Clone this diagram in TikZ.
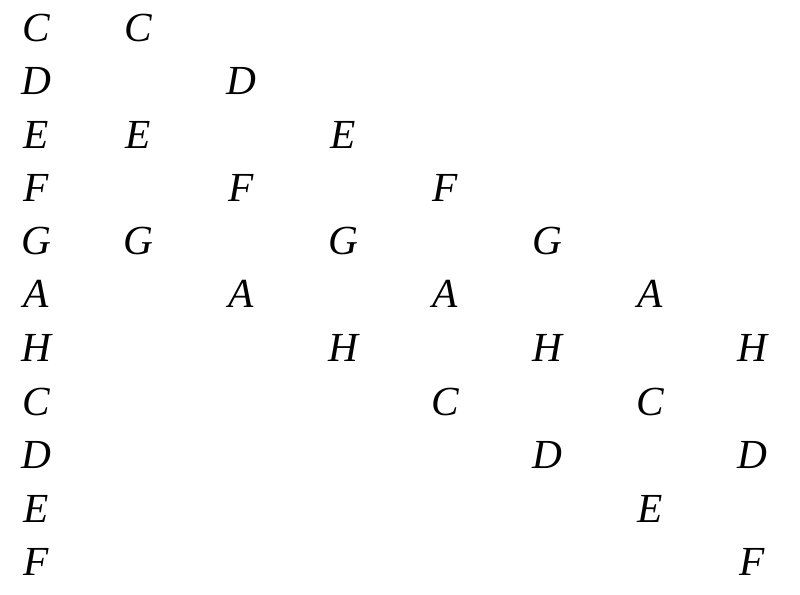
\documentclass[tikz,border=0pt]{standalone}
\usepackage{fontspec}
\setmainfont{Liberation Serif}
\usepackage{tikz}
\usetikzlibrary{positioning}

\begin{document}
\begin{tikzpicture}[
    x=0.75pt, y=-0.75pt,
    note/.style={anchor=base, inner sep=0pt, font=\fontsize{31}{36}\selectfont\itshape}
]
\useasboundingbox (0,0) rectangle (800,595);

% Row 1 - C
\node[note] (c1a) at (36,42) {C};
\node[note] (c1b) at (138,42) {C};

% Row 2 - D
\node[note] (d1a) at (36,95) {D};
\node[note] (d1b) at (241,95) {D};

% Row 3 - E
\node[note] (e1a) at (36,149) {E};
\node[note] (e1b) at (138,149) {E};
\node[note] (e1c) at (343,149) {E};

% Row 4 - F
\node[note] (f1a) at (36,202) {F};
\node[note] (f1b) at (241,202) {F};
\node[note] (f1c) at (445,202) {F};

% Row 5 - G
\node[note] (g1a) at (36,255) {G};
\node[note] (g1b) at (138,255) {G};
\node[note] (g1c) at (343,255) {G};
\node[note] (g1d) at (547,255) {G};

% Row 6 - A
\node[note] (a1a) at (36,308) {A};
\node[note] (a1b) at (241,308) {A};
\node[note] (a1c) at (445,308) {A};
\node[note] (a1d) at (650,308) {A};

% Row 7 - H
\node[note] (h1a) at (36,362) {H};
\node[note] (h1b) at (343,362) {H};
\node[note] (h1c) at (547,362) {H};
\node[note] (h1d) at (752,362) {H};

% Row 8 - C
\node[note] (c2a) at (36,415) {C};
\node[note] (c2b) at (445,415) {C};
\node[note] (c2c) at (650,415) {C};

% Row 9 - D
\node[note] (d2a) at (36,468) {D};
\node[note] (d2b) at (547,468) {D};
\node[note] (d2c) at (752,468) {D};

% Row 10 - E
\node[note] (e2a) at (36,522) {E};
\node[note] (e2b) at (650,522) {E};

% Row 11 - F
\node[note] (f2a) at (36,575) {F};
\node[note] (f2b) at (752,575) {F};

\end{tikzpicture}
\end{document}
